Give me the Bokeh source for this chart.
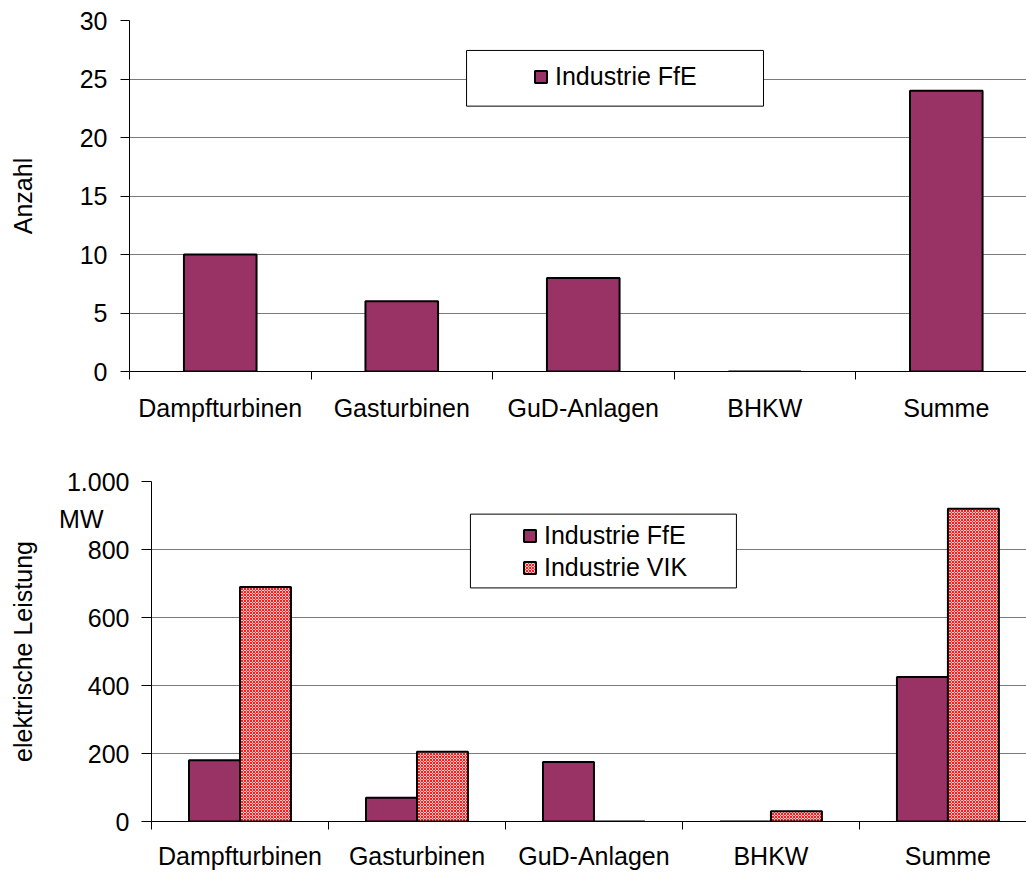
from bokeh.plotting import figure
from bokeh.models import (FixedTicker, Legend, LegendItem, BoxAnnotation,
                          ColumnDataSource, Range1d, LinearAxis)
from bokeh.embed import file_html
from bokeh.resources import INLINE

# --- data -----------------------------------------------------------------
categories = ["Dampfturbinen", "Gasturbinen", "GuD-Anlagen", "BHKW", "Summe"]
anzahl_ffe = [10, 6, 8, 0, 24]              # Anzahl, Industrie FfE
leistung_ffe = [180, 70, 175, 0, 425]       # MW, Industrie FfE
leistung_vik = [690, 205, 0, 30, 920]       # MW, Industrie VIK
anzahl_ticks = [0, 5, 10, 15, 20, 25, 30]
leistung_ticks = [0, 200, 400, 600, 800, 1000]
leistung_tick_labels = ["0", "200", "400", "600", "800", "1.000"]

FONT = "Liberation Sans"
FS = "25px"
PLUM = "#993366"
GRID = "#7a7a7a"

centers = [i + 0.5 for i in range(len(categories))]
bounds = list(range(len(categories) + 1))
cat_labels = {c: name for c, name in zip(centers, categories)}


def text_style(ax):
    ax.major_label_text_font = FONT
    ax.major_label_text_font_size = FS
    ax.major_label_text_color = "black"
    ax.axis_label_text_font = FONT
    ax.axis_label_text_font_size = FS
    ax.axis_label_text_font_style = "normal"
    ax.axis_label_text_color = "black"


def style_axes(p, yticks, tick_out):
    p.xaxis.ticker = FixedTicker(ticks=centers, minor_ticks=bounds)
    p.xaxis.major_label_overrides = cat_labels
    p.xaxis.major_tick_out = 0
    p.xaxis.major_tick_in = 0
    p.xaxis.minor_tick_out = 8
    p.xaxis.minor_tick_in = 0
    p.xaxis.minor_tick_line_color = "black"
    p.xaxis.axis_line_color = "black"
    p.xaxis.major_label_standoff = 14
    p.yaxis.ticker = FixedTicker(ticks=yticks)
    p.yaxis.major_tick_out = tick_out
    p.yaxis.major_tick_in = 0
    p.yaxis.minor_tick_out = 0
    p.yaxis.minor_tick_in = 0
    p.yaxis.axis_line_color = "black"
    p.yaxis.major_tick_line_color = "black"
    text_style(p.xaxis[0])
    text_style(p.yaxis[0])
    p.xgrid.grid_line_color = None
    p.ygrid.ticker = FixedTicker(ticks=yticks)
    p.ygrid.grid_line_color = GRID
    p.outline_line_color = None
    p.background_fill_color = "white"
    p.border_fill_color = "white"


def legend_box(items, loc):
    return Legend(items=items, location=loc, padding=0, margin=0, spacing=3,
                  border_line_alpha=0, background_fill_alpha=0,
                  glyph_width=15, glyph_height=15, label_standoff=7,
                  label_text_font=FONT, label_text_font_size=FS,
                  label_text_color="black")


# --- upper chart: Anzahl ----------------------------------------------------
p1 = figure(width=1026, height=440, output_backend="svg", toolbar_location=None,
            x_range=Range1d(0, 4.942), y_range=Range1d(0, 30),
            min_border_top=20, min_border_bottom=69, min_border_left=129,
            min_border_right=0)
style_axes(p1, anzahl_ticks, 9)
p1.yaxis.major_label_standoff = 13
p1.yaxis.axis_label = "Anzahl"
p1.yaxis.axis_label_standoff = 40

src1 = ColumnDataSource(dict(x=centers, top=anzahl_ffe))
r1 = p1.vbar(x="x", top="top", width=0.4, bottom=0, source=src1,
             fill_color=PLUM, line_color="black", line_width=2)

p1.add_layout(BoxAnnotation(left=1.857, right=3.493, bottom=22.68, top=27.44,
                            fill_color="white", fill_alpha=1,
                            line_color="black", line_width=1, line_alpha=1))
p1.add_layout(legend_box([LegendItem(label="Industrie FfE", renderers=[r1])],
                         (404, 280)))

# --- lower chart: elektrische Leistung --------------------------------------
p2 = figure(width=1026, height=432, output_backend="svg", toolbar_location=None,
            x_range=Range1d(0, 4.944), y_range=Range1d(0, 1000),
            min_border_top=41, min_border_bottom=50, min_border_left=151,
            min_border_right=0)
style_axes(p2, leistung_ticks, 10)
p2.xaxis.major_label_standoff = 12
p2.yaxis.major_label_overrides = {t: s for t, s in zip(leistung_ticks, leistung_tick_labels)}
p2.yaxis.major_label_standoff = 12

# outer left axis: carries the unit "MW" below 1.000 and the axis title
unit_axis = LinearAxis(ticker=FixedTicker(ticks=[891]),
                       major_label_overrides={891: "MW"},
                       axis_line_color=None, major_tick_line_color=None,
                       minor_tick_line_color=None, major_tick_out=0,
                       major_tick_in=0, minor_tick_out=0, minor_tick_in=0,
                       major_label_standoff=-40,
                       axis_label="elektrische Leistung",
                       axis_label_standoff=19)
text_style(unit_axis)
p2.add_layout(unit_axis, "left")

bw = 0.288
src2 = ColumnDataSource(dict(
    x_ffe=[c - bw / 2 for c in centers], x_vik=[c + bw / 2 for c in centers],
    ffe=leistung_ffe, vik=leistung_vik))
r2a = p2.vbar(x="x_ffe", top="ffe", width=bw, bottom=0, source=src2,
              fill_color=PLUM, line_color="black", line_width=2)
r2b = p2.vbar(x="x_vik", top="vik", width=bw, bottom=0, source=src2,
              fill_color="#ffc8c8", hatch_pattern="diagonal_cross",
              hatch_color="#ff1a1a", hatch_scale=3, hatch_weight=1.0,
              line_color="black", line_width=2)

p2.add_layout(BoxAnnotation(left=1.802, right=3.305, bottom=687, top=904,
                            fill_color="white", fill_alpha=1,
                            line_color="black", line_width=1, line_alpha=1))
p2.add_layout(legend_box([LegendItem(label="Industrie FfE", renderers=[r2a]),
                          LegendItem(label="Industrie VIK", renderers=[r2b])],
                         (371, 239)))

open("out.html", "w").write(file_html([p1, p2], INLINE))
